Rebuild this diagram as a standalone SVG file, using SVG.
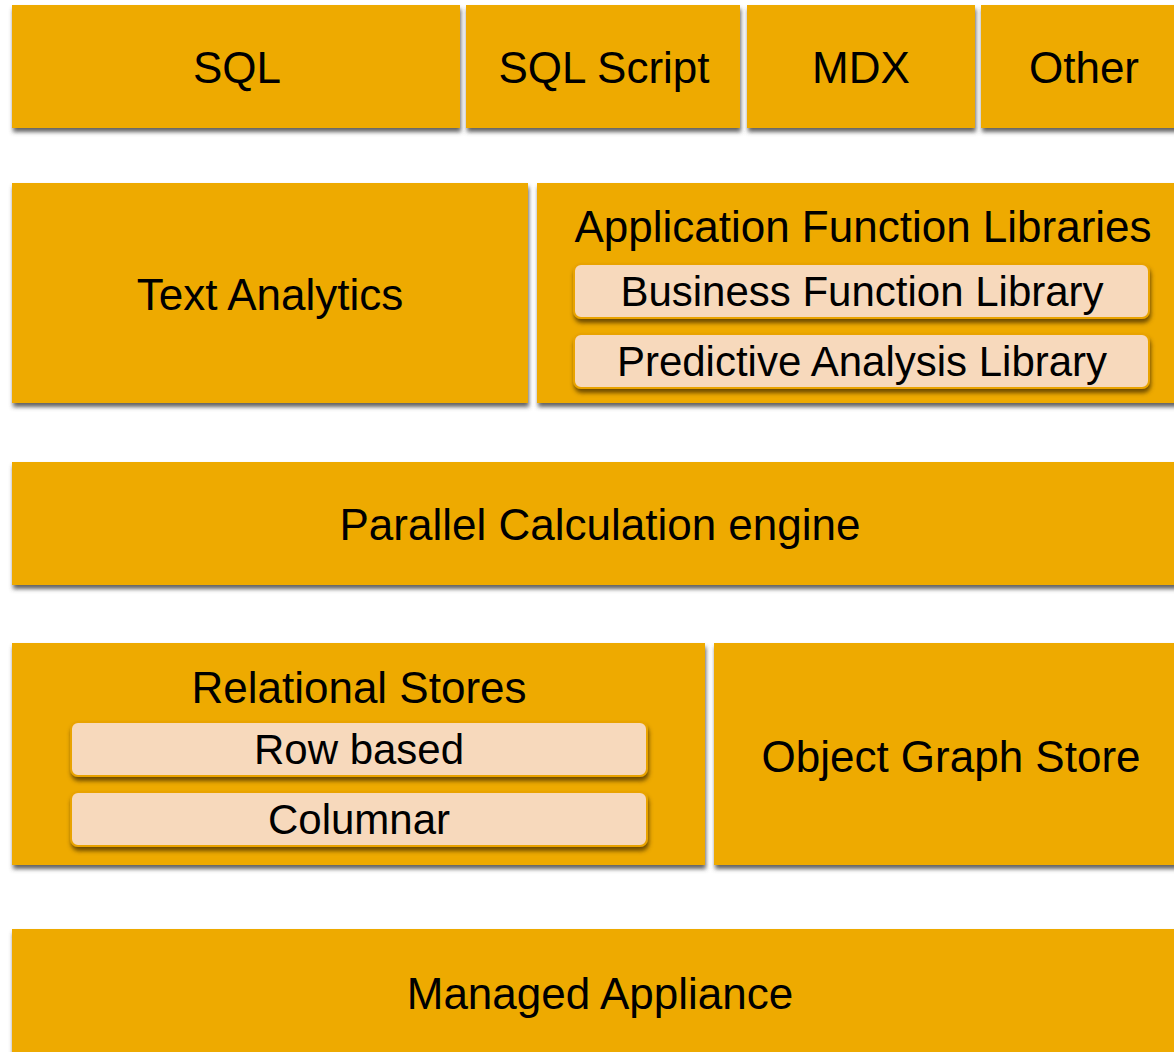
<svg xmlns="http://www.w3.org/2000/svg" width="1174" height="1052" viewBox="0 0 1174 1052">
  <defs>
    <filter id="boxShadow" x="-5%" y="-10%" width="110%" height="130%">
      <feDropShadow dx="1" dy="4" stdDeviation="2" flood-color="#4a4a4a" flood-opacity="0.85"/>
    </filter>
    <filter id="chipShadow" x="-5%" y="-20%" width="110%" height="150%">
      <feDropShadow dx="1" dy="4" stdDeviation="2" flood-color="#5a3c00" flood-opacity="0.85"/>
    </filter>
    <style>
      .box { fill: #EEAA00; filter: url(#boxShadow); }
      .chip { fill: #F7D9BC; stroke: #E9A300; stroke-width: 2; filter: url(#chipShadow); }
      .lbl { font-family: "Liberation Sans", Arial, sans-serif; font-size: 44px; fill: #000000; text-anchor: middle; }
      .sub { font-family: "Liberation Sans", Arial, sans-serif; font-size: 42px; fill: #000000; text-anchor: middle; }
    </style>
  </defs>

  <rect width="1174" height="1052" fill="#ffffff"/>

  <!-- query languages -->
  <g id="sql">
    <rect class="box" x="12" y="5" width="448" height="123"/>
    <text class="lbl" x="237" y="83">SQL</text>
  </g>
  <g id="sql-script">
    <rect class="box" x="466" y="5" width="274" height="123"/>
    <text class="lbl" x="604" y="83">SQL Script</text>
  </g>
  <g id="mdx">
    <rect class="box" x="747" y="5" width="228" height="123"/>
    <text class="lbl" x="861" y="83">MDX</text>
  </g>
  <g id="other">
    <rect class="box" x="981" y="5" width="210" height="123"/>
    <text class="lbl" x="1084" y="83">Other</text>
  </g>

  <!-- analytics layer -->
  <g id="text-analytics">
    <rect class="box" x="12" y="183" width="516" height="220"/>
    <text class="lbl" x="270" y="310">Text Analytics</text>
  </g>
  <g id="application-function-libraries">
    <rect class="box" x="537" y="183" width="654" height="220"/>
    <text class="lbl" x="863" y="242">Application Function Libraries</text>
    <g id="business-function-library">
      <rect class="chip" x="574" y="264" width="575" height="54" rx="7"/>
      <text class="sub" x="862" y="306">Business Function Library</text>
    </g>
    <g id="predictive-analysis-library">
      <rect class="chip" x="574" y="334" width="575" height="54" rx="7"/>
      <text class="sub" x="862" y="376">Predictive Analysis Library</text>
    </g>
  </g>

  <!-- calculation engine -->
  <g id="parallel-calculation-engine">
    <rect class="box" x="12" y="462" width="1180" height="123"/>
    <text class="lbl" x="600" y="540">Parallel Calculation engine</text>
  </g>

  <!-- storage -->
  <g id="relational-stores">
    <rect class="box" x="12" y="643" width="693" height="222"/>
    <text class="lbl" x="359" y="703">Relational Stores</text>
    <g id="row-based">
      <rect class="chip" x="71" y="722" width="576" height="54" rx="7"/>
      <text class="sub" x="359" y="764">Row based</text>
    </g>
    <g id="columnar">
      <rect class="chip" x="71" y="792" width="576" height="54" rx="7"/>
      <text class="sub" x="359" y="834">Columnar</text>
    </g>
  </g>
  <g id="object-graph-store">
    <rect class="box" x="714" y="643" width="480" height="222"/>
    <text class="lbl" x="951" y="772">Object Graph Store</text>
  </g>

  <!-- platform -->
  <g id="managed-appliance">
    <rect class="box" x="12" y="929" width="1180" height="140"/>
    <text class="lbl" x="600" y="1009">Managed Appliance</text>
  </g>

  <g id="connectors"/>
</svg>
